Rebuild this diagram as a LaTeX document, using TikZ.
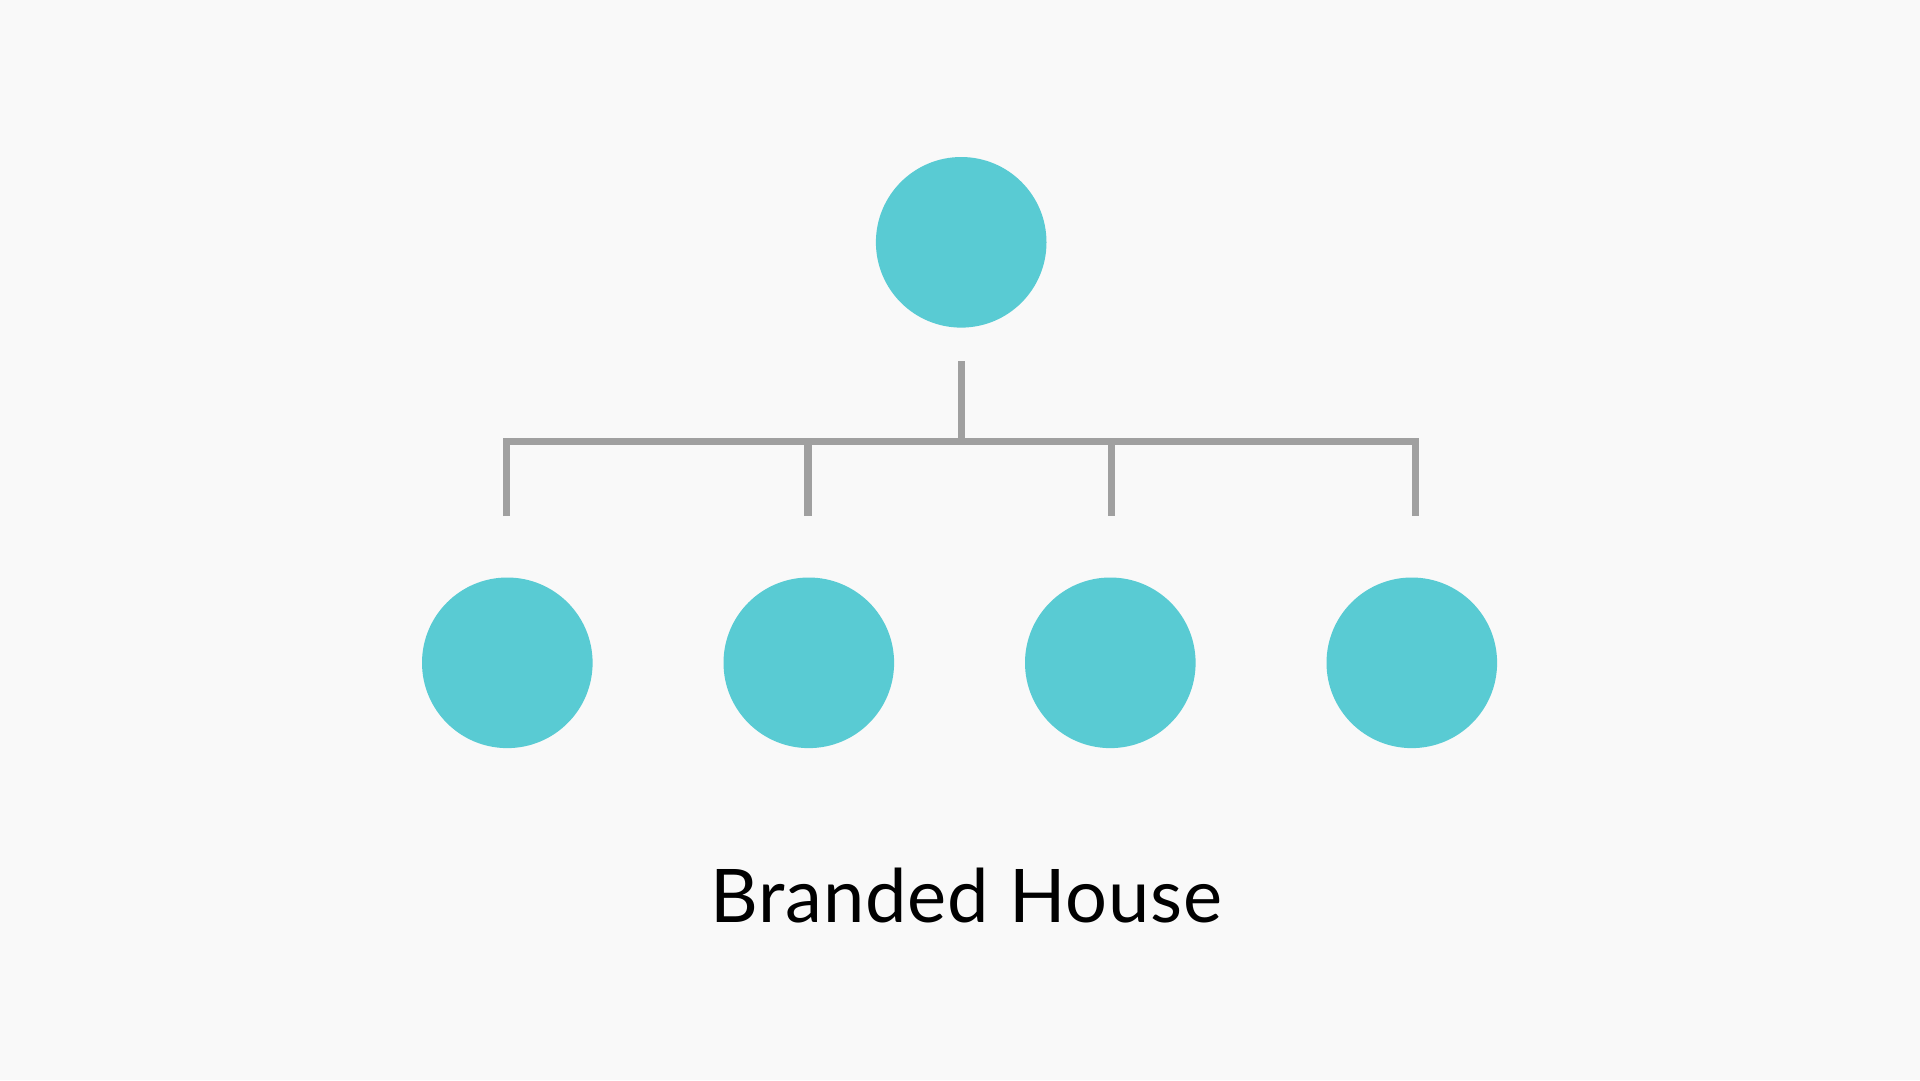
\documentclass[tikz,border=0pt]{standalone}
\usepackage{fontspec}
\setmainfont{Lato}[LetterSpace=1.3]
\definecolor{bg}{HTML}{F9F9F9}
\definecolor{teal}{HTML}{59CBD3}
\definecolor{linegray}{HTML}{A0A0A0}
\tikzset{
  dot/.style={circle,fill=teal,draw=none,minimum size=170.6pt,inner sep=0pt},
  conn/.style={draw=linegray,line width=7.5pt},
}
\begin{document}
\begin{tikzpicture}[x=1pt,y=-1pt]
\fill[bg] (0,0) rectangle (1920,1080);
\useasboundingbox (0,0) rectangle (1920,1080);
\node[dot] (top) at (961.2,242.3) {};
\node[dot] (c1) at (507.3,662.8) {};
\node[dot] (c2) at (808.8,662.8) {};
\node[dot] (c3) at (1110.3,662.8) {};
\node[dot] (c4) at (1411.8,662.8) {};
\coordinate (s0) at (961.7,361);
\coordinate (sj) at (961.7,441.5);
\coordinate (l1) at (506.5,441.5);
\coordinate (l2) at (808,441.5);
\coordinate (l3) at (1111.5,441.5);
\coordinate (l4) at (1415.3,441.5);
\coordinate (e1) at (506.5,516);
\coordinate (e2) at (808,516);
\coordinate (e3) at (1111.5,516);
\coordinate (e4) at (1415.3,516);
\draw[conn] (s0) -- (sj);
\draw[conn] (e1) -- (l1) -- (l4) -- (e4);
\draw[conn] (l2) -- (e2);
\draw[conn] (l3) -- (e3);
\node[anchor=base,inner sep=0pt,font=\fontsize{74}{80}\selectfont] (title) at (966.5,922) {Branded House};
\end{tikzpicture}
\end{document}
